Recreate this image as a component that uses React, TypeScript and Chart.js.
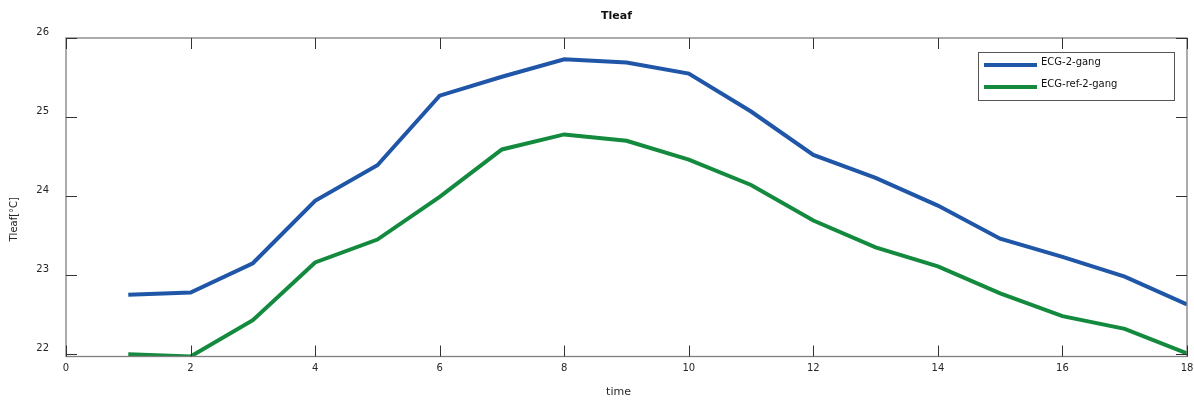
import React, { useEffect, useRef } from "react";
import { Chart, registerables } from "chart.js";

Chart.register(...registerables);

const times = [1, 2, 3, 4, 5, 6, 7, 8, 9, 10, 11, 12, 13, 14, 15, 16, 17, 18];
const ecg2gang = [
  22.75, 22.78, 23.15, 23.94, 24.39, 25.27, 25.51, 25.73, 25.69, 25.55, 25.07,
  24.52, 24.23, 23.88, 23.46, 23.23, 22.98, 22.63,
];
const ecgRef2gang = [
  22.0, 21.97, 22.43, 23.16, 23.45, 23.99, 24.59, 24.78, 24.7, 24.46, 24.14,
  23.69, 23.35, 23.11, 22.77, 22.48, 22.32, 22.01,
];
const xTicks = [0, 2, 4, 6, 8, 10, 12, 14, 16, 18];
const yTicks = [22, 23, 24, 25, 26];
const seriesLabels = ["ECG-2-gang", "ECG-ref-2-gang"];
const seriesColors = ["#1f56a7", "#138a3e"];
const chartTitle = "Tleaf";
const xTitle = "time";
const yTitle = "Tleaf[°C]";

const FONT = "'DejaVu Sans', Verdana, sans-serif";

// Boxed axes with inward ticks on all four sides, titles and a framed legend.
const boxAxes = {
  id: "boxAxes",
  afterDatasetsDraw(chart: any) {
    const { ctx, chartArea, scales } = chart;
    const { left, right, top, bottom } = chartArea;
    const xs = scales.x;
    const ys = scales.y;
    const tick = 11;
    ctx.save();

    // frame
    ctx.strokeStyle = "#7f7f7f";
    ctx.lineWidth = 1.3;
    ctx.strokeRect(left, top, right - left, bottom - top);

    // tick marks
    ctx.strokeStyle = "#333333";
    ctx.lineWidth = 1;
    ctx.beginPath();
    for (const v of xTicks) {
      const px = Math.round(xs.getPixelForValue(v)) + 0.5;
      ctx.moveTo(px, bottom);
      ctx.lineTo(px, bottom - tick);
      ctx.moveTo(px, top);
      ctx.lineTo(px, top + tick);
    }
    for (const v of yTicks) {
      const py = Math.round(ys.getPixelForValue(v)) + 0.5;
      ctx.moveTo(left, py);
      ctx.lineTo(left + tick, py);
      ctx.moveTo(right, py);
      ctx.lineTo(right - tick, py);
    }
    ctx.stroke();

    // chart title
    const cx = (left + right) / 2;
    ctx.fillStyle = "#111111";
    ctx.textAlign = "center";
    ctx.textBaseline = "middle";
    ctx.font = `bold 11px ${FONT}`;
    ctx.fillText(chartTitle, cx - 10, 16);

    // axis titles
    ctx.fillStyle = "#262626";
    ctx.font = `11px ${FONT}`;
    ctx.fillText(xTitle, cx - 8, 392);
    ctx.save();
    ctx.translate(14, (top + bottom) / 2 + 22);
    ctx.rotate(-Math.PI / 2);
    ctx.font = `10px ${FONT}`;
    ctx.fillText(yTitle, 0, 0);
    ctx.restore();

    // legend
    const bx = right - 209;
    const by = top + 14;
    const bw = 196;
    const bh = 48;
    ctx.fillStyle = "#ffffff";
    ctx.fillRect(bx, by, bw, bh);
    ctx.strokeStyle = "#555555";
    ctx.lineWidth = 1;
    ctx.strokeRect(Math.round(bx) + 0.5, Math.round(by) + 0.5, bw, bh);
    ctx.font = `10px ${FONT}`;
    ctx.textAlign = "left";
    chart.data.datasets.forEach((ds: any, i: number) => {
      const ly = by + 13 + i * 22;
      ctx.strokeStyle = ds.borderColor;
      ctx.lineWidth = 4;
      ctx.beginPath();
      ctx.moveTo(bx + 6, ly);
      ctx.lineTo(bx + 59, ly);
      ctx.stroke();
      ctx.fillStyle = "#111111";
      ctx.fillText(ds.label, bx + 63, ly - 3);
    });

    ctx.restore();
  },
};

export default function App() {
  const canvasRef = useRef<HTMLCanvasElement | null>(null);

  useEffect(() => {
    if (!canvasRef.current) return;
    const chart = new Chart(canvasRef.current, {
      type: "line",
      data: {
        datasets: [ecg2gang, ecgRef2gang].map((vals, i) => ({
          label: seriesLabels[i],
          data: times.map((t, j) => ({ x: t, y: vals[j] })),
          borderColor: seriesColors[i],
          backgroundColor: seriesColors[i],
          borderWidth: 4,
          pointRadius: 0,
          tension: 0,
          fill: false,
        })),
      },
      options: {
        responsive: false,
        animation: false,
        layout: { padding: { top: 38, right: 7, bottom: 0, left: 0 } },
        plugins: {
          legend: { display: false },
          title: { display: false },
          tooltip: { enabled: false },
        },
        scales: {
          x: {
            type: "linear",
            min: 0,
            max: 18,
            border: { display: false },
            grid: { display: false, drawTicks: false },
            ticks: {
              padding: 6,
              color: "#262626",
              font: { family: FONT, size: 10 },
              maxRotation: 0,
            },
            afterBuildTicks: (s: any) => {
              s.ticks = xTicks.map((v) => ({ value: v }));
            },
            afterFit: (s: any) => {
              s.height = 46.5;
              s.paddingLeft = 0;
              s.paddingRight = 0;
            },
          },
          y: {
            type: "linear",
            min: 21.97,
            max: 26,
            border: { display: false },
            grid: { display: false, drawTicks: false },
            ticks: {
              padding: 17,
              labelOffset: -6,
              color: "#262626",
              font: { family: FONT, size: 10 },
            },
            afterBuildTicks: (s: any) => {
              s.ticks = yTicks.map((v) => ({ value: v }));
            },
            afterFit: (s: any) => {
              s.width = 66;
              s.paddingTop = 0;
              s.paddingBottom = 0;
            },
          },
        },
      },
      plugins: [boxAxes],
    });
    return () => chart.destroy();
  }, []);

  return (
    <canvas
      ref={canvasRef}
      width={1194}
      height={403}
      style={{ position: "fixed", left: 0, top: 0, display: "block", background: "#ffffff" }}
    />
  );
}
